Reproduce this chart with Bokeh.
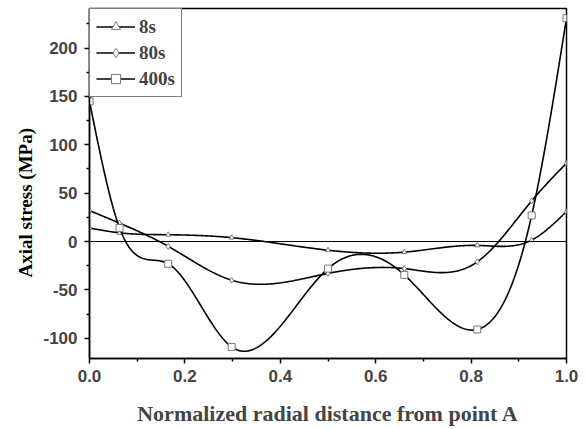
import numpy as np
from bokeh.plotting import figure
from bokeh.models import (Range1d, Span, Legend, LegendItem, FixedTicker,
                          PrintfTickFormatter, Title)
from bokeh.embed import file_html
from bokeh.resources import INLINE

# Data
x_pos = [0.0, 0.063, 0.165, 0.298, 0.5, 0.66, 0.813, 0.927, 1.0]
s8 = [14, 9, 7, 4, -9, -11, -4, 1.5, 31]
s80 = [32, 19, -5, -40, -33, -28, -21, 42, 81]
s400 = [145, 14, -23, -109, -28, -34.5, -91, 27, 231]
x_ticks = [0.0, 0.2, 0.4, 0.6, 0.8, 1.0]
y_ticks = [-100, -50, 0, 50, 100, 150, 200]


def natural_spline(x, y, n=500):
    x = np.asarray(x, float)
    y = np.asarray(y, float)
    k = len(x)
    h = np.diff(x)
    A = np.zeros((k, k))
    b = np.zeros(k)
    A[0, 0] = 1
    A[-1, -1] = 1
    for i in range(1, k - 1):
        A[i, i - 1] = h[i - 1]
        A[i, i] = 2 * (h[i - 1] + h[i])
        A[i, i + 1] = h[i]
        b[i] = 6 * ((y[i + 1] - y[i]) / h[i] - (y[i] - y[i - 1]) / h[i - 1])
    M = np.linalg.solve(A, b)
    xs = np.linspace(x[0], x[-1], n)
    ys = np.empty_like(xs)
    for j, t in enumerate(xs):
        i = min(np.searchsorted(x, t, side="right") - 1, k - 2)
        hi = h[i]
        a = (x[i + 1] - t) / hi
        bb = (t - x[i]) / hi
        ys[j] = (a * y[i] + bb * y[i + 1]
                 + ((a ** 3 - a) * M[i] + (bb ** 3 - bb) * M[i + 1]) * hi * hi / 6)
    return xs, ys


p = figure(width=587, height=429, output_backend="svg", toolbar_location=None,
           x_range=Range1d(0, 1), y_range=Range1d(-121, 241),
           min_border_left=89, min_border_right=21, min_border_top=8,
           min_border_bottom=71)
p.grid.visible = False
p.outline_line_color = "black"
p.outline_line_width = 1.5
p.background_fill_color = "white"

p.add_layout(Span(location=0, dimension="width", line_color="black", line_width=1))

items = []
for data, marker, size, label in [(s8, "triangle", 5, "8s"),
                                  (s80, "diamond", 6, "80s"),
                                  (s400, "square", 7, "400s")]:
    xs, ys = natural_spline(x_pos, data)
    ln = p.line(xs, ys, line_color="black", line_width=1.6)
    mk = p.scatter(x_pos, data, marker=marker, size=size, fill_color="white",
                   line_color="#777777", line_width=1)
    items.append(LegendItem(label=label, renderers=[ln, mk]))

legend = Legend(items=items, location="top_left")
legend.border_line_color = "black"
legend.border_line_width = 1
legend.background_fill_alpha = 1
legend.label_text_font = "Liberation Serif"
legend.label_text_font_style = "bold"
legend.label_text_font_size = "19px"
legend.glyph_width = 39
legend.glyph_height = 23
legend.label_height = 23
legend.spacing = 3
legend.padding = 6
legend.margin = 0
legend.label_standoff = 4
p.add_layout(legend)

for ax in (p.xaxis[0], p.yaxis[0]):
    ax.axis_line_width = 1.5
    ax.major_tick_line_width = 1.5
    ax.minor_tick_line_width = 1.5
    ax.major_tick_out = 5
    ax.major_tick_in = 0
    ax.minor_tick_out = 3
    ax.minor_tick_in = 0
    ax.major_label_text_font = "Liberation Sans"
    ax.major_label_text_font_style = "bold"
    ax.major_label_text_font_size = "17px"
    ax.axis_label_text_font = "Liberation Serif"
    ax.axis_label_text_font_style = "bold"

p.xaxis[0].ticker = FixedTicker(ticks=x_ticks, minor_ticks=[0.1, 0.3, 0.5, 0.7, 0.9])
p.xaxis[0].formatter = PrintfTickFormatter(format="%.1f")
p.yaxis[0].ticker = FixedTicker(ticks=y_ticks,
                                minor_ticks=[-75, -25, 25, 75, 125, 175, 225])
p.yaxis[0].formatter = PrintfTickFormatter(format="%d")
p.xaxis[0].axis_label = "Normalized radial distance from point A"
p.xaxis[0].axis_label_text_font_size = "22px"
p.xaxis[0].axis_label_standoff = 16
p.xaxis[0].major_label_standoff = 6
p.yaxis[0].major_label_standoff = 7

ytitle = Title(text="Axial stress (MPa)", align="left", offset=81, standoff=10,
               text_font="Liberation Serif", text_font_style="bold",
               text_font_size="19px", text_color="black")
p.add_layout(ytitle, "left")

open("out.html", "w").write(file_html(p, INLINE))
